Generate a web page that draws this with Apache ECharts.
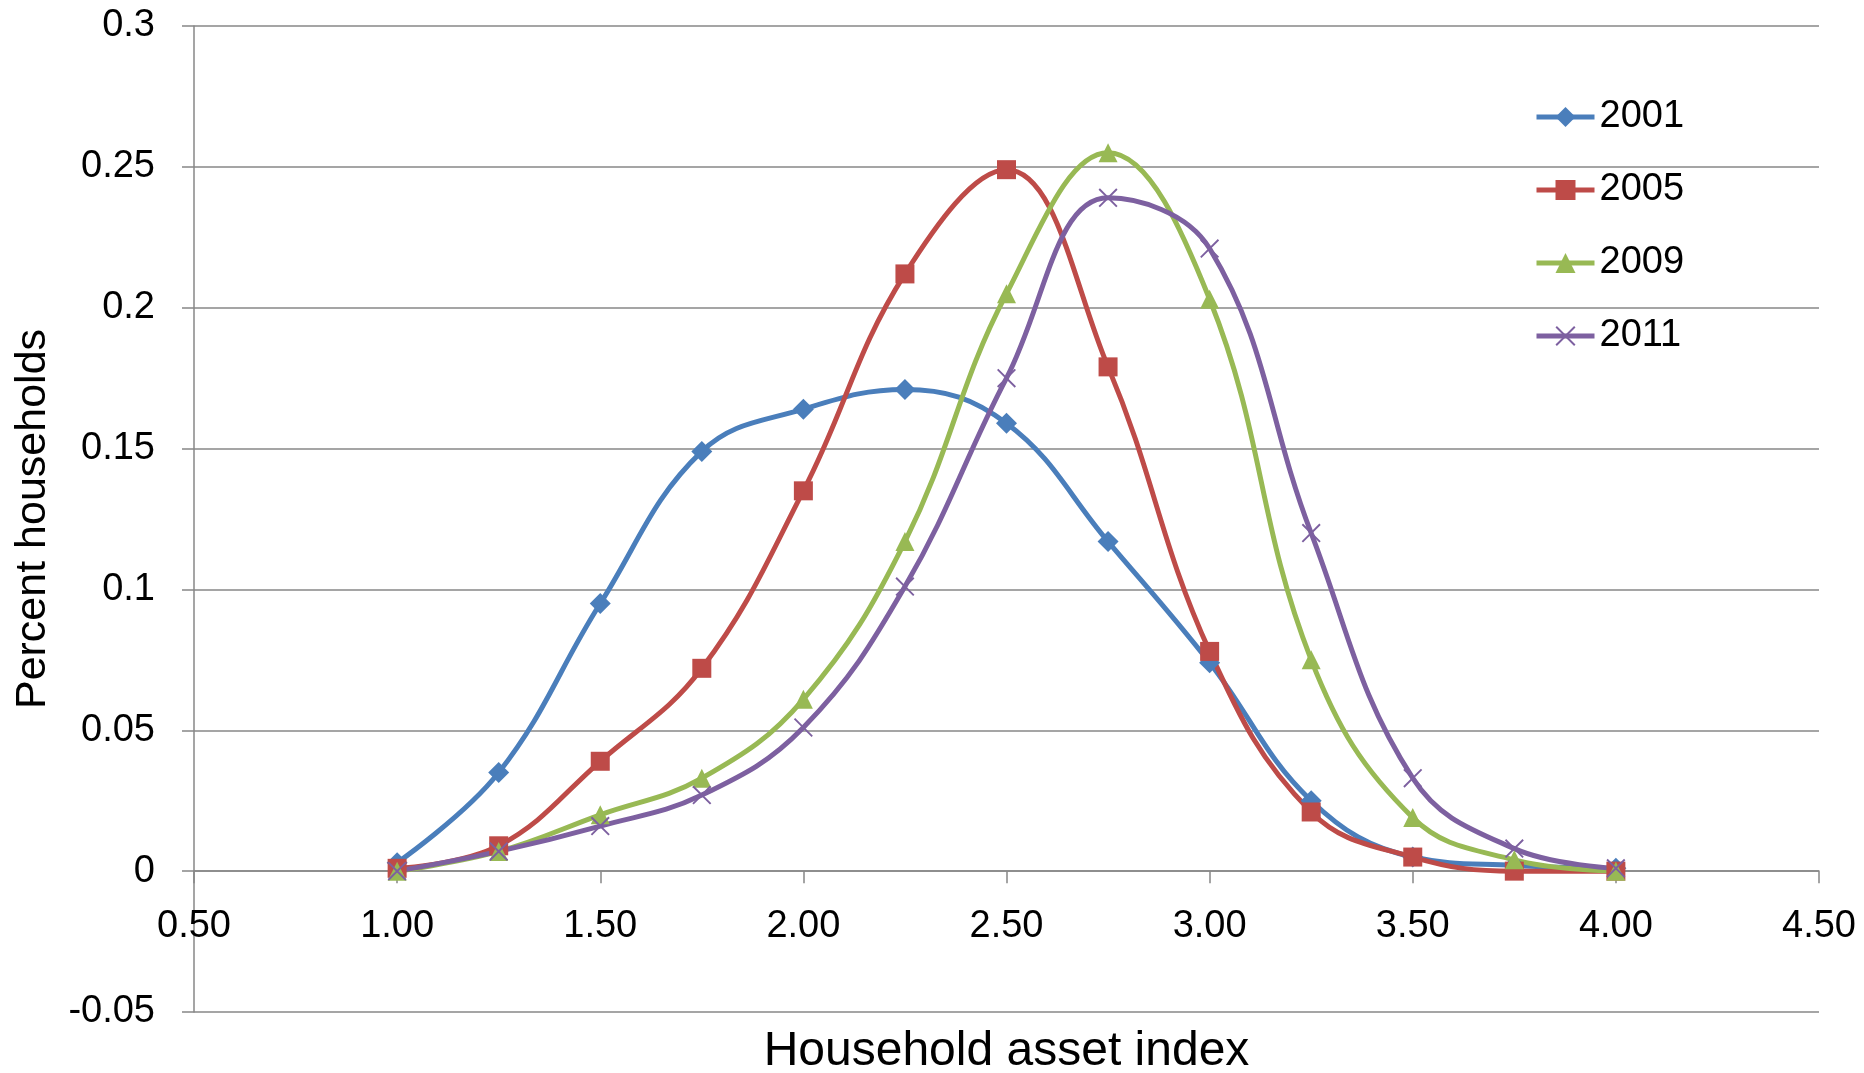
<!DOCTYPE html>
<html>
<head>
<meta charset="utf-8">
<script src="https://cdn.jsdelivr.net/npm/echarts@6/dist/echarts.min.js"></script>
<style>
  html, body { margin: 0; padding: 0; background: #ffffff; }
  #chart { width: 1864px; height: 1073px; }
</style>
</head>
<body>
<div id="chart"></div>
<script>
// Household asset index bins (x) and share of households in each bin, by survey year
const assetIndex = [1.00, 1.25, 1.50, 1.75, 2.00, 2.25, 2.50, 2.75, 3.00, 3.25, 3.50, 3.75, 4.00];
const share2001 = [0.003, 0.035, 0.095, 0.149, 0.164, 0.171, 0.159, 0.117, 0.074, 0.025, 0.005, 0.002, 0.001];
const share2005 = [0.001, 0.009, 0.039, 0.072, 0.135, 0.212, 0.249, 0.179, 0.078, 0.021, 0.005, 0.000, 0.000];
const share2009 = [0.000, 0.007, 0.020, 0.033, 0.061, 0.117, 0.205, 0.255, 0.203, 0.075, 0.019, 0.004, 0.000];
const share2011 = [0.000, 0.007, 0.016, 0.027, 0.051, 0.101, 0.175, 0.239, 0.221, 0.120, 0.033, 0.008, 0.001];
const years = ['2001', '2005', '2009', '2011'];
const yTicks = { min: -0.05, max: 0.3, step: 0.05 };
const xTicks = { min: 0.5, max: 4.5, step: 0.5 };

const FONT = "'Liberation Sans', Arial, sans-serif";
const GRID_GRAY = '#878787';

const W = 1864, H = 1073;
const grid = { left: 194, right: 45, top: 26, bottom: 61 };
const plotH = H - grid.top - grid.bottom;
// the x axis sits on the y = 0 line, lifted up from the bottom of the plot
const xAxisLift = -plotH * (0 - yTicks.min) / (yTicks.max - yTicks.min);

// thin "x" glyph for the 2011 markers
const crossPath = 'path://M0,0.7 L0.7,0 L10,9.3 L9.3,10 Z M9.3,0 L10,0.7 L0.7,10 L0,9.3 Z';

const seriesDefs = [
  { name: years[0], values: share2001, color: '#4A7EBB', symbol: 'diamond', size: 21 },
  { name: years[1], values: share2005, color: '#BE4B48', symbol: 'rect', size: 19 },
  { name: years[2], values: share2009, color: '#98B954', symbol: 'triangle', size: 19 },
  { name: years[3], values: share2011, color: '#7D60A0', symbol: crossPath, size: 19 }
];

const chart = echarts.init(document.getElementById('chart'), null, { renderer: 'canvas', width: W, height: H });

chart.setOption({
  backgroundColor: '#ffffff',
  animation: false,
  textStyle: { fontFamily: FONT },
  grid: {
    left: grid.left, right: grid.right, top: grid.top, bottom: grid.bottom,
    containLabel: false,
    outerBoundsMode: 'none'
  },
  legend: {
    orient: 'vertical',
    left: 1529,
    top: 93,
    itemWidth: 58,
    itemHeight: 25,
    itemGap: 35,
    lineStyle: { width: 5 },
    textStyle: { fontFamily: FONT, fontSize: 38, color: '#000000' },
    data: seriesDefs.map(s => ({ name: s.name, lineStyle: { width: 5, color: s.color } }))
  },
  xAxis: {
    type: 'value',
    min: xTicks.min,
    max: xTicks.max,
    interval: xTicks.step,
    offset: xAxisLift,
    name: 'Household asset index',
    nameLocation: 'middle',
    nameGap: 157,
    nameMoveOverlap: false,
    nameTextStyle: { fontFamily: FONT, fontSize: 48, color: '#000000' },
    axisLine: { onZero: false, lineStyle: { color: GRID_GRAY, width: 1.5 } },
    axisTick: { show: true, inside: false, length: 12, lineStyle: { color: GRID_GRAY, width: 1.5 } },
    axisLabel: {
      margin: 36,
      fontFamily: FONT,
      fontSize: 38,
      color: '#000000',
      formatter: v => v.toFixed(2)
    },
    splitLine: { show: false }
  },
  yAxis: {
    type: 'value',
    min: yTicks.min,
    max: yTicks.max,
    interval: yTicks.step,
    name: 'Percent households',
    nameLocation: 'middle',
    nameGap: 139,
    nameRotate: 90,
    nameMoveOverlap: false,
    nameTextStyle: { fontFamily: FONT, fontSize: 43, color: '#000000' },
    axisLine: { show: true, onZero: false, lineStyle: { color: GRID_GRAY, width: 1.5 } },
    axisTick: { show: true, inside: false, length: 12, lineStyle: { color: GRID_GRAY, width: 1.5 } },
    axisLabel: {
      margin: 39,
      fontFamily: FONT,
      fontSize: 38,
      color: '#000000',
      formatter: v => String(parseFloat(v.toFixed(2)))
    },
    splitLine: { show: true, lineStyle: { color: GRID_GRAY, width: 1.5 } }
  },
  series: seriesDefs.map(s => ({
    name: s.name,
    type: 'line',
    smooth: 0.4,
    data: assetIndex.map((x, i) => [x, s.values[i]]),
    symbol: s.symbol,
    symbolSize: s.size,
    showSymbol: true,
    lineStyle: { color: s.color, width: 5 },
    itemStyle: { color: s.color, borderWidth: 0 },
    emphasis: { disabled: true }
  }))
});
</script>
</body>
</html>
